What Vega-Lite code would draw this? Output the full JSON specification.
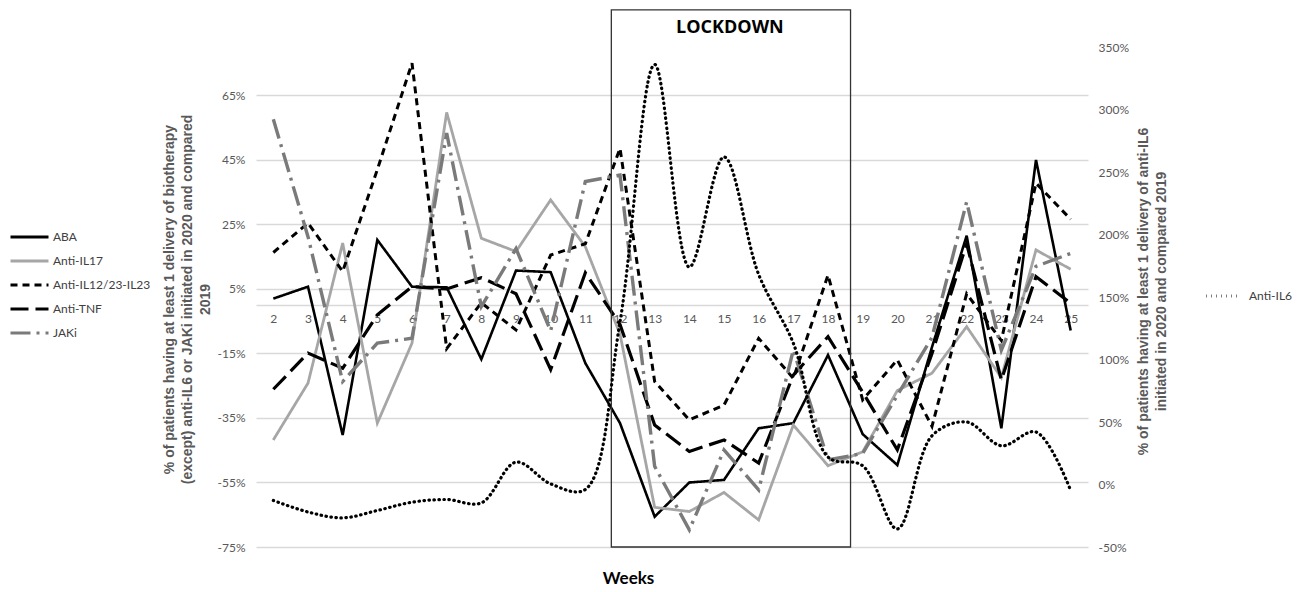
{
  "$schema": "https://vega.github.io/schema/vega-lite/v6.json",
  "width": 832,
  "height": 500,
  "autosize": {"type": "none"},
  "padding": {"left": 256, "top": 47, "right": 211, "bottom": 45},
  "background": "white",
  "config": {
    "view": {"stroke": null},
    "axis": {"labelFont": "Lato", "labelFontSize": 12, "labelColor": "#595959", "ticks": false, "domain": false},
    "axisX": {"labelOverlap": false, "labelFlush": false, "tickCount": 24, "domain": true, "domainColor": "#d9d9d9", "domainWidth": 1.3},
    "legend": {"labelFont": "Lato", "labelFontSize": 12, "labelColor": "#404040", "symbolType": "stroke", "symbolStrokeWidth": 3, "title": null, "rowPadding": 0, "clipHeight": 24}
  },
  "datasets": {
    "left": [
      {"week": 2, "series": "ABA", "value": 2}, {"week": 3, "series": "ABA", "value": 5.7}, {"week": 4, "series": "ABA", "value": -40.3}, {"week": 5, "series": "ABA", "value": 20.2}, {"week": 6, "series": "ABA", "value": 5.7}, {"week": 7, "series": "ABA", "value": 5.5}, {"week": 8, "series": "ABA", "value": -16.8}, {"week": 9, "series": "ABA", "value": 10.7}, {"week": 10, "series": "ABA", "value": 10.2}, {"week": 11, "series": "ABA", "value": -18}, {"week": 12, "series": "ABA", "value": -36.6}, {"week": 13, "series": "ABA", "value": -65.6}, {"week": 14, "series": "ABA", "value": -55}, {"week": 15, "series": "ABA", "value": -54.2}, {"week": 16, "series": "ABA", "value": -38.2}, {"week": 17, "series": "ABA", "value": -36.6}, {"week": 18, "series": "ABA", "value": -15.5}, {"week": 19, "series": "ABA", "value": -40}, {"week": 20, "series": "ABA", "value": -49.6}, {"week": 21, "series": "ABA", "value": -13}, {"week": 22, "series": "ABA", "value": 21.5}, {"week": 23, "series": "ABA", "value": -38.2}, {"week": 24, "series": "ABA", "value": 45}, {"week": 25, "series": "ABA", "value": -7.9},
      {"week": 2, "series": "Anti-IL17", "value": -41.8}, {"week": 3, "series": "Anti-IL17", "value": -24.2}, {"week": 4, "series": "Anti-IL17", "value": 19.2}, {"week": 5, "series": "Anti-IL17", "value": -36.6}, {"week": 6, "series": "Anti-IL17", "value": -11.8}, {"week": 7, "series": "Anti-IL17", "value": 59.7}, {"week": 8, "series": "Anti-IL17", "value": 20.7}, {"week": 9, "series": "Anti-IL17", "value": 16.6}, {"week": 10, "series": "Anti-IL17", "value": 32.6}, {"week": 11, "series": "Anti-IL17", "value": 18.1}, {"week": 12, "series": "Anti-IL17", "value": -9}, {"week": 13, "series": "Anti-IL17", "value": -62.7}, {"week": 14, "series": "Anti-IL17", "value": -64}, {"week": 15, "series": "Anti-IL17", "value": -58.1}, {"week": 16, "series": "Anti-IL17", "value": -66.6}, {"week": 17, "series": "Anti-IL17", "value": -37.2}, {"week": 18, "series": "Anti-IL17", "value": -49.8}, {"week": 19, "series": "Anti-IL17", "value": -45.5}, {"week": 20, "series": "Anti-IL17", "value": -26.5}, {"week": 21, "series": "Anti-IL17", "value": -21.1}, {"week": 22, "series": "Anti-IL17", "value": -6.7}, {"week": 23, "series": "Anti-IL17", "value": -22.5}, {"week": 24, "series": "Anti-IL17", "value": 17.1}, {"week": 25, "series": "Anti-IL17", "value": 11.1},
      {"week": 2, "series": "Anti-IL12/23-IL23", "value": 16.3}, {"week": 3, "series": "Anti-IL12/23-IL23", "value": 25.4}, {"week": 4, "series": "Anti-IL12/23-IL23", "value": 10.4}, {"week": 5, "series": "Anti-IL12/23-IL23", "value": 42}, {"week": 6, "series": "Anti-IL12/23-IL23", "value": 75}, {"week": 7, "series": "Anti-IL12/23-IL23", "value": -13.5}, {"week": 8, "series": "Anti-IL12/23-IL23", "value": 0.7}, {"week": 9, "series": "Anti-IL12/23-IL23", "value": -7.7}, {"week": 10, "series": "Anti-IL12/23-IL23", "value": 15.5}, {"week": 11, "series": "Anti-IL12/23-IL23", "value": 19}, {"week": 12, "series": "Anti-IL12/23-IL23", "value": 48.6}, {"week": 13, "series": "Anti-IL12/23-IL23", "value": -23.7}, {"week": 14, "series": "Anti-IL12/23-IL23", "value": -35.6}, {"week": 15, "series": "Anti-IL12/23-IL23", "value": -31}, {"week": 16, "series": "Anti-IL12/23-IL23", "value": -10.3}, {"week": 17, "series": "Anti-IL12/23-IL23", "value": -22.7}, {"week": 18, "series": "Anti-IL12/23-IL23", "value": 9.3}, {"week": 19, "series": "Anti-IL12/23-IL23", "value": -29.4}, {"week": 20, "series": "Anti-IL12/23-IL23", "value": -17}, {"week": 21, "series": "Anti-IL12/23-IL23", "value": -37.6}, {"week": 22, "series": "Anti-IL12/23-IL23", "value": 3.5}, {"week": 23, "series": "Anti-IL12/23-IL23", "value": -11}, {"week": 24, "series": "Anti-IL12/23-IL23", "value": 37.8}, {"week": 25, "series": "Anti-IL12/23-IL23", "value": 26.6},
      {"week": 2, "series": "Anti-TNF", "value": -26.1}, {"week": 3, "series": "Anti-TNF", "value": -14.9}, {"week": 4, "series": "Anti-TNF", "value": -19.6}, {"week": 5, "series": "Anti-TNF", "value": -3}, {"week": 6, "series": "Anti-TNF", "value": 5.7}, {"week": 7, "series": "Anti-TNF", "value": 5}, {"week": 8, "series": "Anti-TNF", "value": 8.5}, {"week": 9, "series": "Anti-TNF", "value": 3.5}, {"week": 10, "series": "Anti-TNF", "value": -20}, {"week": 11, "series": "Anti-TNF", "value": 10}, {"week": 12, "series": "Anti-TNF", "value": -6}, {"week": 13, "series": "Anti-TNF", "value": -37.2}, {"week": 14, "series": "Anti-TNF", "value": -45.4}, {"week": 15, "series": "Anti-TNF", "value": -41.8}, {"week": 16, "series": "Anti-TNF", "value": -49}, {"week": 17, "series": "Anti-TNF", "value": -21.7}, {"week": 18, "series": "Anti-TNF", "value": -9.8}, {"week": 19, "series": "Anti-TNF", "value": -27}, {"week": 20, "series": "Anti-TNF", "value": -44.9}, {"week": 21, "series": "Anti-TNF", "value": -15}, {"week": 22, "series": "Anti-TNF", "value": 19}, {"week": 23, "series": "Anti-TNF", "value": -23.2}, {"week": 24, "series": "Anti-TNF", "value": 8.8}, {"week": 25, "series": "Anti-TNF", "value": 0.6},
      {"week": 2, "series": "JAKi", "value": 57.6}, {"week": 3, "series": "JAKi", "value": 21.2}, {"week": 4, "series": "JAKi", "value": -23.7}, {"week": 5, "series": "JAKi", "value": -11.8}, {"week": 6, "series": "JAKi", "value": -10.3}, {"week": 7, "series": "JAKi", "value": 53.3}, {"week": 8, "series": "JAKi", "value": -0.5}, {"week": 9, "series": "JAKi", "value": 17.5}, {"week": 10, "series": "JAKi", "value": -8}, {"week": 11, "series": "JAKi", "value": 38.3}, {"week": 12, "series": "JAKi", "value": 40.3}, {"week": 13, "series": "JAKi", "value": -50}, {"week": 14, "series": "JAKi", "value": -69.7}, {"week": 15, "series": "JAKi", "value": -44.9}, {"week": 16, "series": "JAKi", "value": -57.3}, {"week": 17, "series": "JAKi", "value": -13.9}, {"week": 18, "series": "JAKi", "value": -48}, {"week": 19, "series": "JAKi", "value": -46}, {"week": 20, "series": "JAKi", "value": -28}, {"week": 21, "series": "JAKi", "value": -10}, {"week": 22, "series": "JAKi", "value": 32}, {"week": 23, "series": "JAKi", "value": -14}, {"week": 24, "series": "JAKi", "value": 12}, {"week": 25, "series": "JAKi", "value": 16}
    ],
    "right": [
      {"week": 2, "series": "Anti-IL6", "value": -12.8}, {"week": 3, "series": "Anti-IL6", "value": -22}, {"week": 4, "series": "Anti-IL6", "value": -26.7}, {"week": 5, "series": "Anti-IL6", "value": -20.8}, {"week": 6, "series": "Anti-IL6", "value": -14.2}, {"week": 7, "series": "Anti-IL6", "value": -12}, {"week": 8, "series": "Anti-IL6", "value": -14.7}, {"week": 9, "series": "Anti-IL6", "value": 17.9}, {"week": 10, "series": "Anti-IL6", "value": 0.5}, {"week": 11, "series": "Anti-IL6", "value": -4}, {"week": 12, "series": "Anti-IL6", "value": 130}, {"week": 13, "series": "Anti-IL6", "value": 336}, {"week": 14, "series": "Anti-IL6", "value": 174}, {"week": 15, "series": "Anti-IL6", "value": 262}, {"week": 16, "series": "Anti-IL6", "value": 168}, {"week": 17, "series": "Anti-IL6", "value": 113}, {"week": 18, "series": "Anti-IL6", "value": 22}, {"week": 19, "series": "Anti-IL6", "value": 15}, {"week": 20, "series": "Anti-IL6", "value": -35.5}, {"week": 21, "series": "Anti-IL6", "value": 39}, {"week": 22, "series": "Anti-IL6", "value": 50}, {"week": 23, "series": "Anti-IL6", "value": 31}, {"week": 24, "series": "Anti-IL6", "value": 42}, {"week": 25, "series": "Anti-IL6", "value": -4.8}
    ],
    "box": [{"week": 11.75, "week2": 18.65, "value": -75, "value2": 91.5}],
    "label": [{"week": 15.17, "value": 86, "text": "LOCKDOWN"}]
  },
  "layer": [
    {
      "layer": [
        {
          "data": {"name": "left"},
          "mark": {"type": "line", "strokeJoin": "miter"},
          "encoding": {
            "x": {"field": "week", "type": "quantitative", "scale": {"domain": [1.5, 25.5], "nice": false, "zero": false},
              "axis": {"values": [2,3,4,5,6,7,8,9,10,11,12,13,14,15,16,17,18,19,20,21,22,23,24,25], "tickCount": 24, "labelOverlap": false, "labelFlush": false, "offset": -242, "domain": true, "domainColor": "#d9d9d9", "domainWidth": 1.3, "grid": false, "labelPadding": 8,
                "title": "Weeks", "titleFont": "Lato", "titleFontSize": 17, "titleFontWeight": "bold", "titleColor": "#000000", "titleX": 372, "titleY": 273, "titleBaseline": "middle"}},
            "y": {"field": "value", "type": "quantitative", "scale": {"domain": [-75, 80], "nice": false, "zero": false},
              "axis": {"values": [-75,-55,-35,-15,5,25,45,65], "labelExpr": "datum.value + '%'", "grid": true, "gridColor": "#d9d9d9", "gridWidth": 1.3, "labelPadding": 11,
                "title": ["% of patients having at least 1 delivery of biotherapy", "(except) anti-IL6 or JAKi initiated in 2020 and compared", "2019"],
                "titleFont": "Liberation Sans", "titleFontSize": 14, "titleFontWeight": "bold", "titleColor": "#595959", "titleLineHeight": 18, "titleAngle": 270, "titleX": -87, "titleY": 252, "titleBaseline": "middle", "titleAlign": "center"}},
            "color": {"field": "series", "type": "nominal",
              "scale": {"domain": ["ABA", "Anti-IL17", "Anti-IL12/23-IL23", "Anti-TNF", "JAKi"], "range": ["#000000", "#a6a6a6", "#000000", "#000000", "#7a7a7a"]},
              "legend": {"orient": "none", "legendX": -247, "legendY": 178, "symbolSize": 1444, "labelOffset": 3}},
            "strokeDash": {"field": "series", "type": "nominal",
              "scale": {"domain": ["ABA", "Anti-IL17", "Anti-IL12/23-IL23", "Anti-TNF", "JAKi"], "range": [[1, 0], [1, 0], [7, 5], [18, 7], [20, 6, 3, 6]]},
              "legend": {"orient": "none", "legendX": -247, "legendY": 178, "symbolSize": 1444, "labelOffset": 3}},
            "strokeWidth": {"field": "series", "type": "nominal",
              "scale": {"domain": ["ABA", "Anti-IL17", "Anti-IL12/23-IL23", "Anti-TNF", "JAKi"], "range": [2.6, 3.4, 2.8, 3, 3]}, "legend": null}
          }
        },
        {
          "data": {"name": "box"},
          "mark": {"type": "rect", "fill": "transparent", "stroke": "#333333", "strokeWidth": 1.3},
          "encoding": {
            "x": {"field": "week", "type": "quantitative"},
            "x2": {"field": "week2"},
            "y": {"field": "value", "type": "quantitative"},
            "y2": {"field": "value2"}
          }
        },
        {
          "data": {"name": "label"},
          "mark": {"type": "text", "font": "Open Sans", "fontSize": 18, "fontWeight": "bold", "color": "#000000", "align": "center", "baseline": "middle"},
          "encoding": {
            "x": {"field": "week", "type": "quantitative"},
            "y": {"field": "value", "type": "quantitative"},
            "text": {"field": "text"}
          }
        }
      ]
    },
    {
      "data": {"name": "right"},
      "mark": {"type": "line", "interpolate": "catmull-rom", "strokeWidth": 3.2, "strokeCap": "round"},
      "encoding": {
        "x": {"field": "week", "type": "quantitative", "axis": {"values": [2,3,4,5,6,7,8,9,10,11,12,13,14,15,16,17,18,19,20,21,22,23,24,25], "tickCount": 24, "labelOverlap": false}},
        "y": {"field": "value", "type": "quantitative", "scale": {"domain": [-50, 350], "nice": false, "zero": false},
          "axis": {"orient": "right", "values": [-50,0,50,100,150,200,250,300,350], "labelExpr": "datum.value + '%'", "grid": false, "labelPadding": 10,
            "title": ["% of patients having at least 1 delivery of anti-IL6", "initiated in 2020 and compared 2019"],
            "titleFont": "Liberation Sans", "titleFontSize": 14, "titleFontWeight": "bold", "titleColor": "#595959", "titleLineHeight": 18, "titleAngle": 270, "titleX": 55, "titleY": 244, "titleBaseline": "middle", "titleAlign": "center"}},
        "color": {"field": "series", "type": "nominal", "scale": {"domain": ["Anti-IL6"], "range": ["#000000"]},
          "legend": {"orient": "none", "legendX": 949, "legendY": 237, "symbolSize": 1225, "labelOffset": 6}},
        "strokeDash": {"field": "series", "type": "nominal", "scale": {"domain": ["Anti-IL6"], "range": [[0.5, 4.5]]},
          "legend": {"orient": "none", "legendX": 949, "legendY": 237, "symbolSize": 1225, "labelOffset": 6}}
      }
    }
  ],
  "resolve": {"scale": {"y": "independent", "color": "independent", "strokeDash": "independent"}}
}
